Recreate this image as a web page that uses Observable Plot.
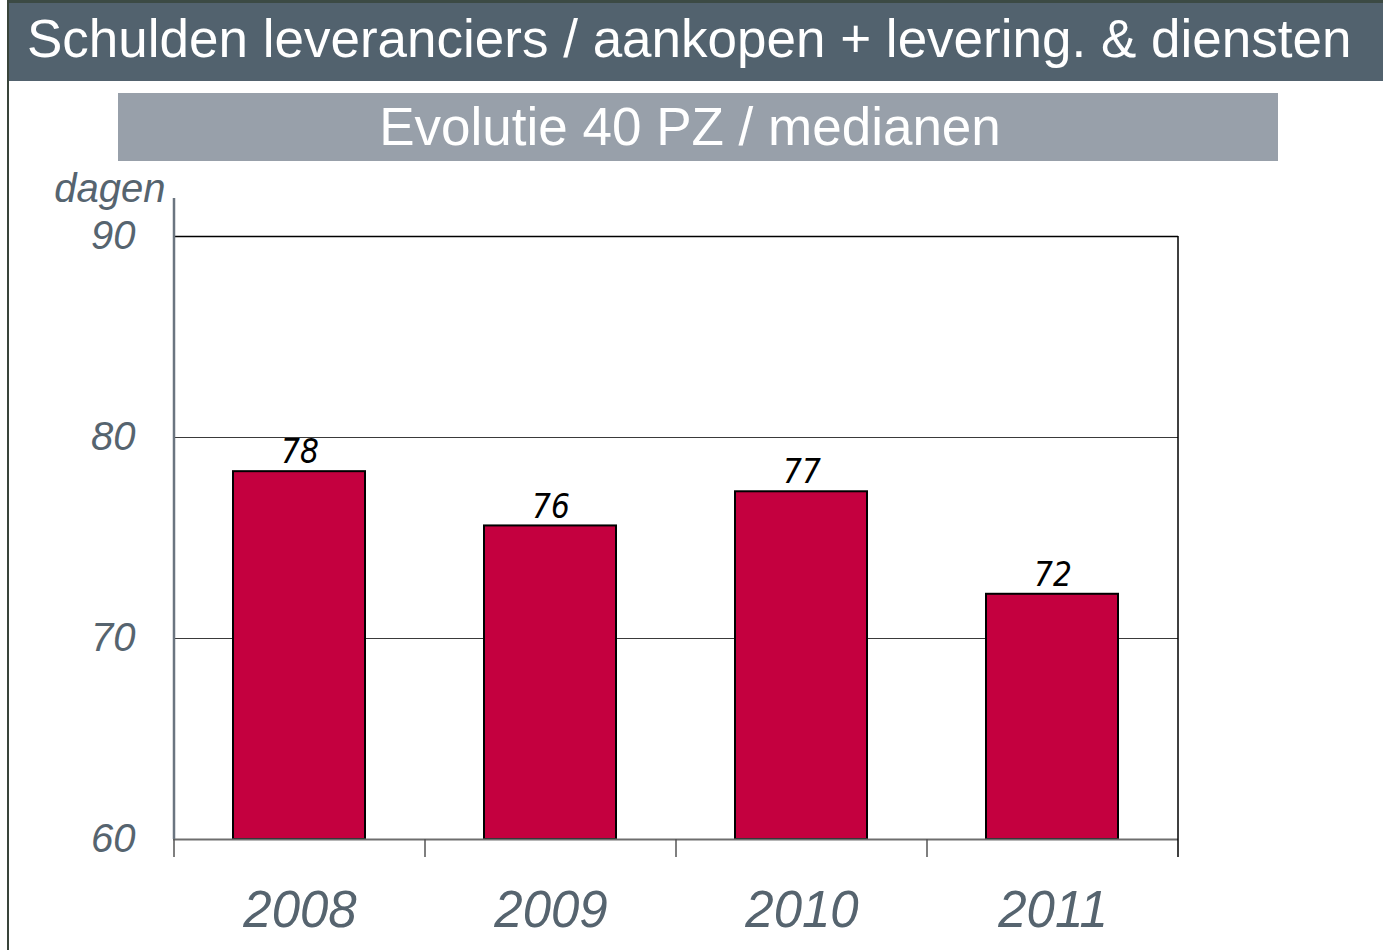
<!DOCTYPE html>
<html><head><meta charset="utf-8">
<script src="https://cdn.jsdelivr.net/npm/d3@7"></script>
<script src="https://cdn.jsdelivr.net/npm/@observablehq/plot@0.6"></script>
<style>
body{margin:0;background:#fff;}
#wrap{position:relative;width:1383px;height:950px;overflow:hidden;font-family:"Liberation Sans",Arial,sans-serif;}
#border{position:absolute;left:7px;top:0;width:2px;height:950px;background:#39443a;}
#title{position:absolute;left:9px;top:0;right:0;height:78px;background:#52626e;border-top:3px solid #3c4a44;color:#fff;font-size:53px;line-height:72px;padding-left:18px;white-space:nowrap;}
#sub{position:absolute;left:118px;top:93px;width:1160px;height:68px;background:#98a0aa;color:#fff;font-size:53px;line-height:68px;text-align:center;white-space:nowrap;text-indent:-16px;}
#chart{position:absolute;left:0;top:170px;}
</style></head>
<body>
<div id="wrap">
  <div id="title">Schulden leveranciers / aankopen + levering. &amp; diensten</div>
  <div id="sub">Evolutie 40 PZ / medianen</div>
  <div id="border"></div>
  <div id="chart"></div>
</div>
<script>
const years = ["2008", "2009", "2010", "2011"];
const values = [78.3, 75.6, 77.3, 72.2];
const labels = ["78", "76", "77", "72"];
const yTicks = [60, 70, 80, 90];
const gridLines = [70, 80];
const yLabel = "dagen";

const data = years.map((yr, i) => ({year: yr, value: values[i], label: labels[i]}));

const plot = Plot.plot({
  width: 1383, height: 780,
  marginLeft: 173, marginRight: 205, marginTop: 66, marginBottom: 111,
  style: {background: "transparent", overflow: "visible", fontFamily: "'Liberation Sans', Arial, sans-serif"},
  x: {domain: years, padding: 0, label: null},
  y: {domain: [60, 90], label: null},
  marks: [
    Plot.ruleY(gridLines, {stroke: "#3a3a3a", strokeWidth: 1}),
    Plot.ruleY([90], {stroke: "#000", strokeWidth: 1.5}),
    Plot.barY(data, {x: "year", y1: 60, y2: "value", fill: "#c4003f", stroke: "#000", strokeWidth: 2, insetLeft: 59, insetRight: 60}),
    Plot.ruleY([60], {stroke: "#6e6e6e", strokeWidth: 2}),
    Plot.text(data, {x: "year", y: "value", text: "label", dy: -19, fontSize: 33, fontStyle: "italic", fontFamily: "'Liberation Sans Narrow', 'DejaVu Sans Condensed', sans-serif", fill: "#000"}),
    Plot.axisY(yTicks, {tickSize: 0, tickPadding: 38, fontSize: 40, fontStyle: "italic", fill: "#56646f", label: null}),
    Plot.axisX(years, {tickSize: 0, tickPadding: 51, fontSize: 51, fontStyle: "italic", fill: "#56646f", label: null}),
    Plot.text([yLabel], {text: d => d, frameAnchor: "top-left", dx: -8, dy: -63, textAnchor: "end", fontSize: 40, fontStyle: "italic", fill: "#56646f"})
  ]
});

const x = plot.scale("x"), y = plot.scale("y");
const svg = d3.select(plot);
const y60 = y.apply(60), y90 = y.apply(90);
const bounds = years.map(c => x.apply(c)).concat([x.apply(years[years.length - 1]) + x.bandwidth]);
const g = svg.append("g");
// category boundary ticks
bounds.forEach((bx, i) => {
  g.append("line").attr("x1", bx).attr("x2", bx).attr("y1", y60).attr("y2", y60 + 18)
    .attr("stroke", i === bounds.length - 1 ? "#000" : "#555").attr("stroke-width", 1.5);
});
// right frame line
const xr = bounds[bounds.length - 1];
g.append("line").attr("x1", xr).attr("x2", xr).attr("y1", y90).attr("y2", y60)
  .attr("stroke", "#000").attr("stroke-width", 1.5);
// y axis line
g.append("line").attr("x1", bounds[0]).attr("x2", bounds[0]).attr("y1", y90 - 38).attr("y2", y60)
  .attr("stroke", "#6b7580").attr("stroke-width", 2.5);

document.getElementById("chart").appendChild(plot);
</script>
</body></html>
